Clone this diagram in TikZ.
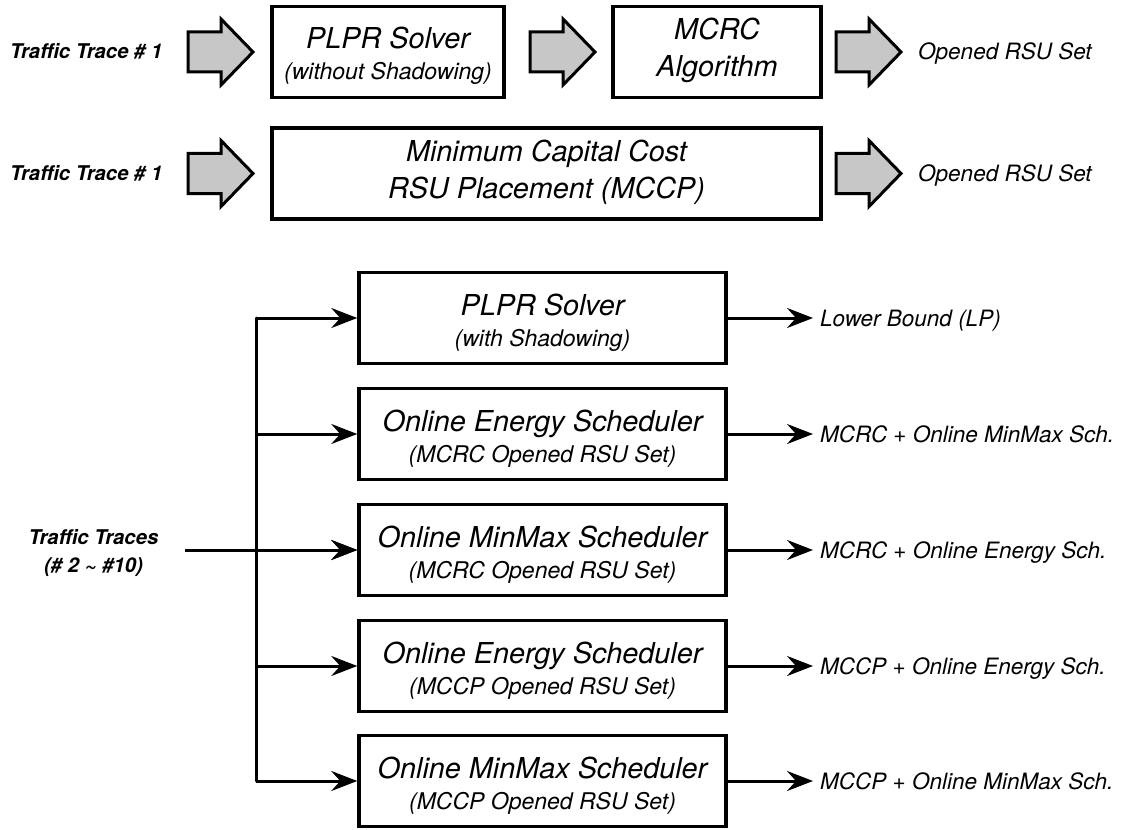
\documentclass[tikz,border=0pt]{standalone}
\usepackage{fontspec}
\setmainfont{TeX Gyre Heros}
\usetikzlibrary{arrows.meta}
\newcommand\bigsz{\fontsize{28.8}{34}\selectfont}
\newcommand\smallsz{\fontsize{23}{28}\selectfont}
\newcommand\outsz{\fontsize{22.5}{27}\selectfont}
\newcommand\boldsz{\fontsize{20.3}{28}\selectfont}

\begin{document}
\begin{tikzpicture}[x=1pt,y=-1pt,
  box/.style={draw, line width=3.5pt, inner sep=0pt},
  mainline/.style={anchor=base, inner sep=0pt, font=\bigsz\itshape},
  subline/.style={anchor=base, inner sep=0pt, font=\smallsz\itshape},
  boldtxt/.style={inner sep=0pt, font=\boldsz\bfseries\itshape},
  outtxt/.style={anchor=base west, inner sep=0pt, font=\outsz\itshape},
  conn/.style={line width=3pt, -{Stealth[length=26pt,width=20pt,inset=9pt]}},
  trunk/.style={line width=3pt, line cap=round},
  bigarrow/.pic={\draw[line width=3pt, fill=black!22, line join=miter]
      (0,-20) -- (33,-20) -- (33,-33) -- (65,0) -- (33,33) -- (33,20) -- (0,20) -- cycle;}
]
\useasboundingbox (0,0) rectangle (1139,829);

% --- first pipeline: PLPR -> MCRC
\node[boldtxt, anchor=base west] (src1) at (10,59) {Traffic Trace \# 1};
\pic at (188,52) {bigarrow};
\node[box, minimum width=232pt, minimum height=91pt] (plpr) at (388,52) {};
\node[mainline] (plpr-m) at (388,49) {PLPR Solver};
\node[subline] (plpr-s) at (388,80) {(without Shadowing)};
\pic at (530,52) {bigarrow};
\node[box, minimum width=208pt, minimum height=91pt] (mcrc) at (717,52) {};
\node[mainline] (mcrc-a) at (717,40) {MCRC};
\node[mainline] (mcrc-b) at (717,77) {Algorithm};
\pic at (836,52) {bigarrow};
\node[outtxt] (open1) at (918,60) {Opened RSU Set};

% --- second pipeline: MCCP
\node[boldtxt, anchor=base west] (src2) at (10,180.5) {Traffic Trace \# 1};
\pic at (188,173.5) {bigarrow};
\node[box, minimum width=549pt, minimum height=91pt] (mccp) at (546.5,173.5) {};
\node[mainline] (mccp-a) at (546.5,161.5) {Minimum Capital Cost};
\node[mainline] (mccp-b) at (546.5,198.5) {RSU Placement (MCCP)};
\pic at (836,173.5) {bigarrow};
\node[outtxt] (open2) at (918,181.5) {Opened RSU Set};

% --- evaluation stage
\node[boldtxt, anchor=base] (src3a) at (93.5,544) {Traffic Traces};
\node[boldtxt, anchor=base] (src3b) at (93.5,572) {(\# 2 \textasciitilde{} \#10)};
\coordinate (in) at (185,550);

\foreach \i/\yc/\ma/\su/\ou in {
  1/318/{PLPR Solver}/{(with Shadowing)}/{Lower Bound (LP)},
  2/434/{Online Energy Scheduler}/{(MCRC Opened RSU Set)}/{MCRC + Online MinMax Sch.},
  3/550/{Online MinMax Scheduler}/{(MCRC Opened RSU Set)}/{MCRC + Online Energy Sch.},
  4/666/{Online Energy Scheduler}/{(MCCP Opened RSU Set)}/{MCCP + Online Energy Sch.},
  5/781/{Online MinMax Scheduler}/{(MCCP Opened RSU Set)}/{MCCP + Online MinMax Sch.}}{
  \node[box, minimum width=367pt, minimum height=91pt] (b\i) at (542.5,\yc) {};
  \node[mainline] (b\i-m) at (542.5,\yc-3) {\ma};
  \node[subline] (b\i-s) at (542.5,\yc+28) {\su};
  \node[outtxt] (o\i) at (820,\yc+8) {\ou};
  \coordinate (e\i) at (813,\yc);
  \draw[conn] (b\i.east) -- (e\i);
}

\coordinate (jt) at (256,318);
\coordinate (jb) at (256,781);
\draw[trunk] (jt) -- (jb);
\foreach \i in {1,...,5}{
  \draw[conn] (b\i.west -| jt) -- (b\i.west);
}
\draw[conn] (in) -- (b3.west);
\end{tikzpicture}
\end{document}
